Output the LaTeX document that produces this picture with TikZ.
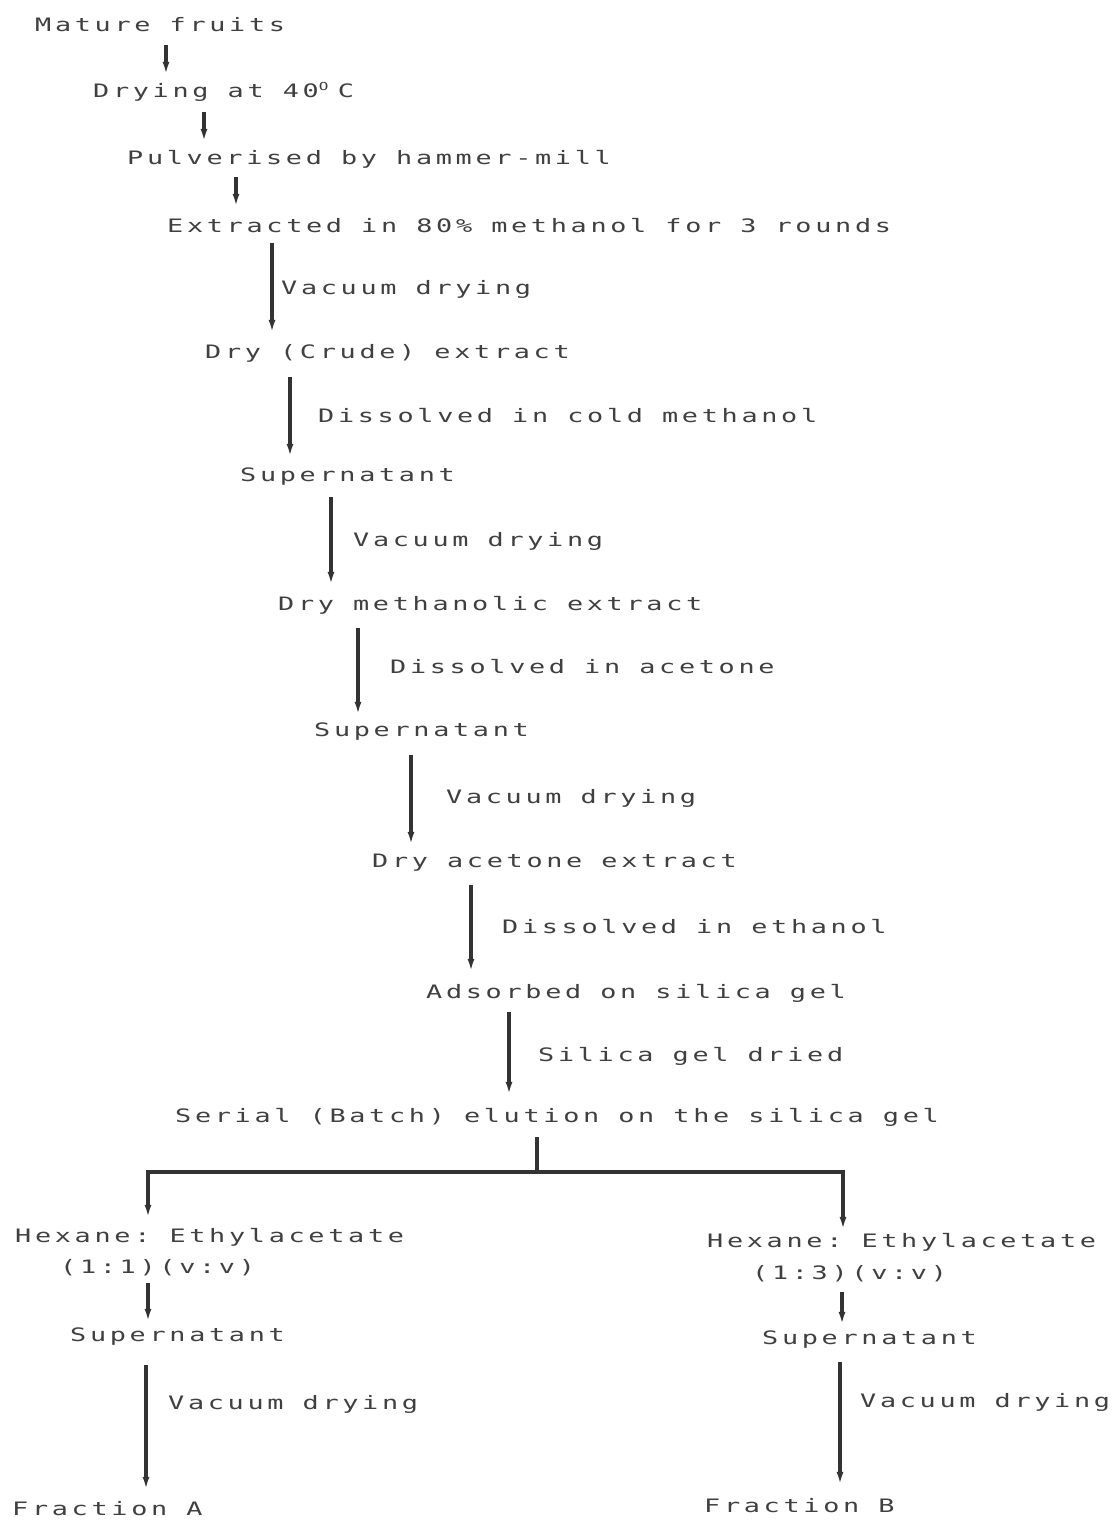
\documentclass[tikz,border=0pt]{standalone}
\usepackage{fontspec}
\setmonofont{DejaVu Sans Mono}[LetterSpace=20, FakeStretch=1.45]
\usetikzlibrary{arrows.meta}
\definecolor{ink}{HTML}{404040}
\definecolor{lineink}{HTML}{333333}
\newcommand\txtfont{\fontsize{18.5}{22}\selectfont\ttfamily\frenchspacing\spaceskip 19.1pt\relax}
\tikzset{
  txt/.style={anchor=west, inner sep=0pt, text height=14pt, text depth=4pt,
    font=\txtfont, text=ink},
  arr/.style={draw=lineink, line width=3.2pt, -{Latex[length=13pt,width=7pt]}},
  conn/.style={draw=lineink, line width=3.2pt},
}
\begin{document}
\begin{tikzpicture}[x=1pt,y=1pt]
\useasboundingbox[fill=white] (0,0) rectangle (1111,-1525);
% main column
\node[txt] (n1) at (35,-27) {Mature fruits};
\node[txt] (n2) at (93,-93) {Drying at 40\makebox[19.1pt][l]{\raisebox{7pt}{\fontsize{11}{11}\selectfont O}}C};
\node[txt] (n3) at (127,-160) {Pulverised by hammer-mill};
\node[txt] (n4) at (167,-228) {Extracted in 80\% methanol for 3 rounds};
\node[txt] (l1) at (281,-289) {Vacuum drying};
\node[txt] (n5) at (205,-353) {Dry (Crude) extract};
\node[txt] (l2) at (318,-417) {Dissolved in cold methanol};
\node[txt] (n6) at (240,-476) {Supernatant};
\node[txt] (l3) at (353,-541) {Vacuum drying};
\node[txt] (n7) at (278,-605) {Dry methanolic extract};
\node[txt] (l4) at (390,-668) {Dissolved in acetone};
\node[txt] (n8) at (314,-731) {Supernatant};
\node[txt] (l5) at (446,-798) {Vacuum drying};
\node[txt] (n9) at (372,-862) {Dry acetone extract};
\node[txt] (l6) at (502,-928) {Dissolved in ethanol};
\node[txt] (n10) at (426,-993) {Adsorbed on silica gel};
\node[txt] (l7) at (538,-1056) {Silica gel dried};
\node[txt] (n11) at (175,-1117) {Serial (Batch) elution on the silica gel};
% branches
\node[txt] (hl) at (15,-1237) {Hexane: Ethylacetate};
\node[txt] (rl) at (60,-1268) {(1:1)(v:v)};
\node[txt] (hr) at (707,-1242) {Hexane: Ethylacetate};
\node[txt] (rr) at (752,-1274) {(1:3)(v:v)};
\node[txt] (sl) at (70,-1336) {Supernatant};
\node[txt] (sr) at (762,-1339) {Supernatant};
\node[txt] (l8) at (168,-1404) {Vacuum drying};
\node[txt] (l9) at (860,-1402) {Vacuum drying};
\node[txt] (fa) at (12,-1510) {Fraction A};
\node[txt] (fb) at (704,-1507) {Fraction B};
% connectors
\draw[arr, shorten <=9pt, shorten >=9pt] (166,0 |- n1.south) -- (166,0 |- n2.north);
\draw[arr, shorten <=10pt, shorten >=9pt] (204,0 |- n2.south) -- (204,0 |- n3.north);
\draw[arr, shorten <=8pt, shorten >=12pt] (236,0 |- n3.south) -- (236,0 |- n4.north);
\draw[arr, shorten <=6pt, shorten >=11pt] (272,0 |- n4.south) -- (272,0 |- n5.north);
\draw[arr, shorten <=15pt, shorten >=10pt] (290,0 |- n5.south) -- (290,0 |- n6.north);
\draw[arr, shorten <=12pt, shorten >=11pt] (331,0 |- n6.south) -- (331,0 |- n7.north);
\draw[arr, shorten <=14pt, shorten >=7pt] (358,0 |- n7.south) -- (358,0 |- n8.north);
\draw[arr, shorten <=15pt, shorten >=8pt] (411,0 |- n8.south) -- (411,0 |- n9.north);
\draw[arr, shorten <=14pt, shorten >=12pt] (471,0 |- n9.south) -- (471,0 |- n10.north);
\draw[arr, shorten <=10pt, shorten >=13pt] (509,0 |- n10.south) -- (509,0 |- n11.north);
\coordinate (split) at (537,-1172);
\coordinate (bl) at (148,-1172);
\coordinate (br) at (843,-1172);
\draw[conn, shorten <=11pt] (split |- n11.south) -- (split);
\draw[arr, shorten >=10pt] (split) -- (bl) -- (bl |- hl.north);
\draw[arr, shorten >=3pt] (split) -- (br) -- (br |- hr.north);
\draw[arr, shorten <=6pt, shorten >=5pt] (148,0 |- rl.south) -- (148,0 |- sl.north);
\draw[arr, shorten <=9pt, shorten >=5pt] (842,0 |- rr.south) -- (842,0 |- sr.north);
\draw[arr, shorten <=20pt, shorten >=11pt] (146,0 |- sl.south) -- (146,0 |- fa.north);
\draw[arr, shorten <=14pt, shorten >=13pt] (840,0 |- sr.south) -- (840,0 |- fb.north);
\end{tikzpicture}
\end{document}
